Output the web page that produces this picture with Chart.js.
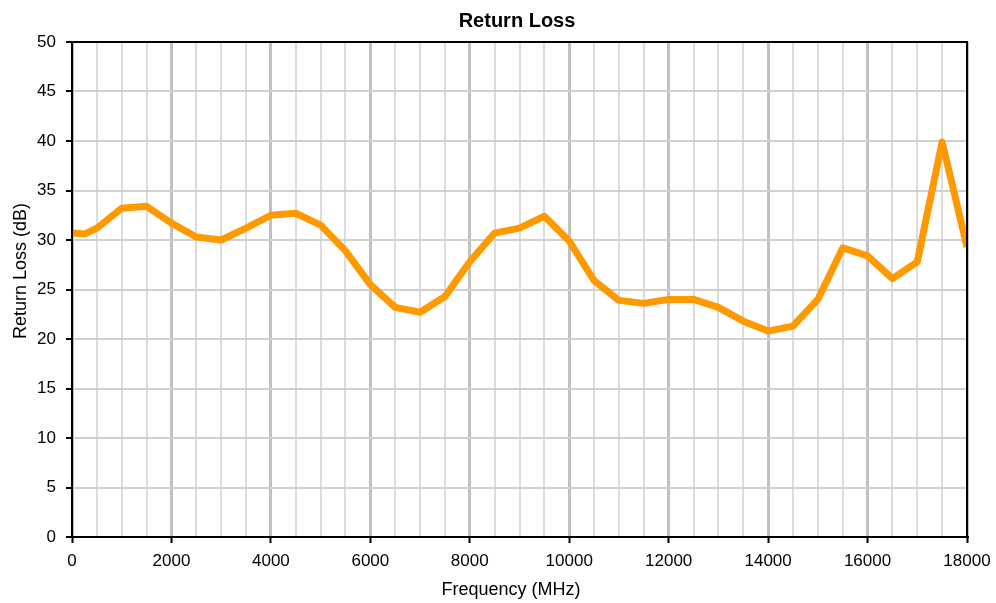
<!DOCTYPE html>
<html>
<head>
<meta charset="utf-8">
<script src="https://cdn.jsdelivr.net/npm/chart.js@4/dist/chart.umd.min.js"></script>
<style>
  html, body { margin: 0; padding: 0; background: #fff; }
</style>
</head>
<body>
<canvas id="chart" width="996" height="603"></canvas>
<script>
// frequency points (MHz) and measured return loss (dB)
var frequency = [0, 250, 500, 1000, 1500, 2000, 2500, 3000, 3500, 4000, 4500, 5000,
  5500, 6000, 6500, 7000, 7500, 8000, 8500, 9000, 9500, 10000, 10500, 11000,
  11500, 12000, 12500, 13000, 13500, 14000, 14500, 15000, 15500, 16000, 16500,
  17000, 17500, 18000];
var returnLoss = [30.7, 30.6, 31.2, 33.2, 33.4, 31.7, 30.3, 30.0, 31.2, 32.5, 32.7, 31.5,
  28.9, 25.5, 23.2, 22.7, 24.3, 27.8, 30.7, 31.2, 32.4, 29.9, 25.9, 23.9,
  23.6, 24.0, 24.0, 23.2, 21.8, 20.8, 21.3, 24.0, 29.2, 28.4, 26.1,
  27.8, 39.9, 29.3];

var chartTitle = "Return Loss";
var xTitle = "Frequency (MHz)";
var yTitle = "Return Loss (dB)";

var points = [];
for (var i = 0; i < frequency.length; i++) {
  points.push({ x: frequency[i], y: returnLoss[i] });
}

var fontFamily = "'Liberation Sans', Arial, sans-serif";

// black frame round the plot area, plus the chart and axis titles
var frame = {
  id: "frame",
  afterDatasetsDraw(chart) {
    var a = chart.chartArea;
    var ctx = chart.ctx;
    ctx.save();
    ctx.strokeStyle = "#000";
    ctx.lineWidth = 2;
    ctx.strokeRect(a.left, a.top, a.right - a.left, a.bottom - a.top);

    ctx.fillStyle = "#000";
    ctx.textAlign = "center";
    ctx.textBaseline = "middle";
    ctx.font = "bold 20px " + fontFamily;
    ctx.fillText(chartTitle, 517, 21);

    ctx.font = "18px " + fontFamily;
    ctx.fillText(xTitle, 511, 590);

    ctx.translate(21, 271);
    ctx.rotate(-Math.PI / 2);
    ctx.fillText(yTitle, 0, 0);
    ctx.restore();
  },
};

var config = {
  type: "line",
  data: {
    datasets: [
      {
        label: "Return Loss",
        data: points,
        borderColor: "#FF9900",
        backgroundColor: "#FF9900",
        borderWidth: 7,
        borderJoinStyle: "round",
        pointRadius: 0,
        tension: 0,
        clip: 0,
      },
    ],
  },
  options: {
    responsive: false,
    animation: false,
    layout: { padding: { left: 0, right: 29, top: 42, bottom: 0 } },
    plugins: {
      legend: { display: false },
      tooltip: { enabled: false },
      title: { display: false },
    },
    scales: {
      x: {
        type: "linear",
        min: 0,
        max: 18000,
        afterFit: function (scale) {
          scale.height = 66;
          scale.paddingLeft = 0;
          scale.paddingRight = 0;
        },
        ticks: {
          stepSize: 500,
          autoSkip: false,
          maxRotation: 0,
          padding: 8,
          color: "#000",
          font: { family: fontFamily, size: 17 },
          callback: function (v) { return v % 2000 === 0 ? String(v) : ""; },
        },
        grid: {
          color: function (c) {
            return c.tick && c.tick.value % 2000 === 0 ? "#c0c0c0" : "#dcdcdc";
          },
          lineWidth: function (c) {
            return c.tick && c.tick.value % 2000 === 0 ? 3 : 2;
          },
          tickColor: function (c) {
            return c.tick && c.tick.value % 2000 === 0 ? "#000" : "rgba(0,0,0,0)";
          },
          tickLength: 6,
          tickWidth: 2,
        },
        border: { color: "#000", width: 2 },
      },
      y: {
        min: 0,
        max: 50,
        afterFit: function (scale) {
          scale.width = 72;
          scale.paddingTop = 0;
          scale.paddingBottom = 0;
        },
        ticks: {
          stepSize: 5,
          padding: 10,
          color: "#000",
          font: { family: fontFamily, size: 17 },
        },
        grid: {
          color: "#d0d0d0",
          lineWidth: 2,
          tickColor: "#000",
          tickLength: 6,
          tickWidth: 2,
        },
        border: { color: "#000", width: 2 },
      },
    },
  },
  plugins: [frame],
};

new Chart(document.getElementById("chart"), config);
</script>
</body>
</html>
